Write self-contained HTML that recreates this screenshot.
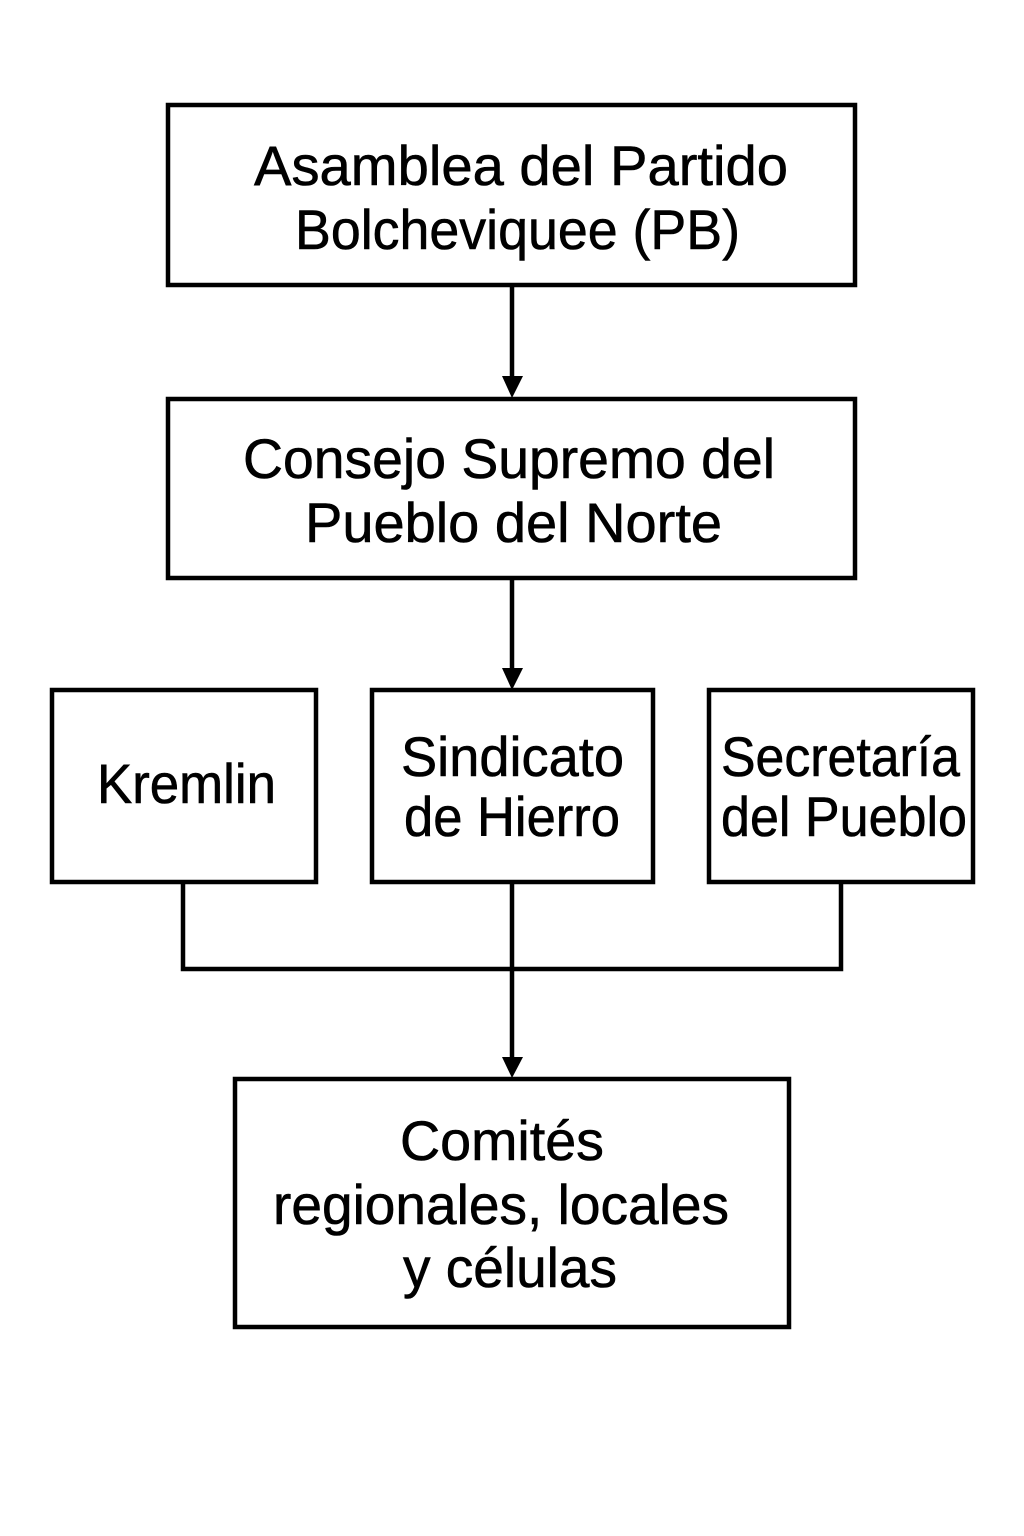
<!DOCTYPE html>
<html>
<head>
<meta charset="utf-8">
<style>
  html, body { margin:0; padding:0; background:#fff; }
  svg { display:block; }
  text { font-family: "Liberation Sans", "DejaVu Sans", sans-serif; font-size:56px; fill:#000; stroke:#000; stroke-width:0.6px; }
</style>
</head>
<body>
<svg width="1024" height="1536" viewBox="0 0 1024 1536" xmlns="http://www.w3.org/2000/svg">
  <rect x="0" y="0" width="1024" height="1536" fill="#fff"/>
  <g fill="none" stroke="#000" stroke-width="4.5">
    <!-- Boxes -->
    <rect x="168" y="105" width="687" height="180"/>
    <rect x="168" y="399" width="687" height="179"/>
    <rect x="52" y="690" width="264" height="192"/>
    <rect x="372" y="690" width="281" height="192"/>
    <rect x="709" y="690" width="264" height="192"/>
    <rect x="235" y="1079" width="554" height="248"/>
    <!-- Connectors -->
    <line x1="512" y1="287" x2="512" y2="378"/>
    <line x1="512" y1="580" x2="512" y2="670"/>
    <polyline points="183,884 183,969 841,969 841,884"/>
    <line x1="512" y1="884" x2="512" y2="1058"/>
  </g>
  <g fill="#000">
    <polygon points="502,376 523,376 512,398"/>
    <polygon points="502,668 523,668 512,690"/>
    <polygon points="502,1057 523,1057 512,1078"/>
  </g>
  <!-- Labels -->
  <text x="254" y="185" textLength="534" lengthAdjust="spacingAndGlyphs">Asamblea del Partido</text>
  <text x="295" y="249" textLength="445" lengthAdjust="spacingAndGlyphs">Bolcheviquee (PB)</text>

  <text x="243" y="478" textLength="532" lengthAdjust="spacingAndGlyphs">Consejo Supremo del</text>
  <text x="305" y="542" textLength="417" lengthAdjust="spacingAndGlyphs">Pueblo del Norte</text>

  <text x="97" y="803" textLength="179" lengthAdjust="spacingAndGlyphs">Kremlin</text>

  <text x="401" y="776" textLength="223" lengthAdjust="spacingAndGlyphs">Sindicato</text>
  <text x="404" y="836" textLength="216" lengthAdjust="spacingAndGlyphs">de Hierro</text>

  <text x="721" y="776" textLength="239" lengthAdjust="spacingAndGlyphs">Secretaría</text>
  <text x="721" y="836" textLength="246" lengthAdjust="spacingAndGlyphs">del Pueblo</text>

  <text x="400" y="1160" textLength="204" lengthAdjust="spacingAndGlyphs">Comités</text>
  <text x="273" y="1224" textLength="456" lengthAdjust="spacingAndGlyphs">regionales, locales</text>
  <text x="403" y="1287" textLength="214" lengthAdjust="spacingAndGlyphs">y células</text>
</svg>
</body>
</html>
